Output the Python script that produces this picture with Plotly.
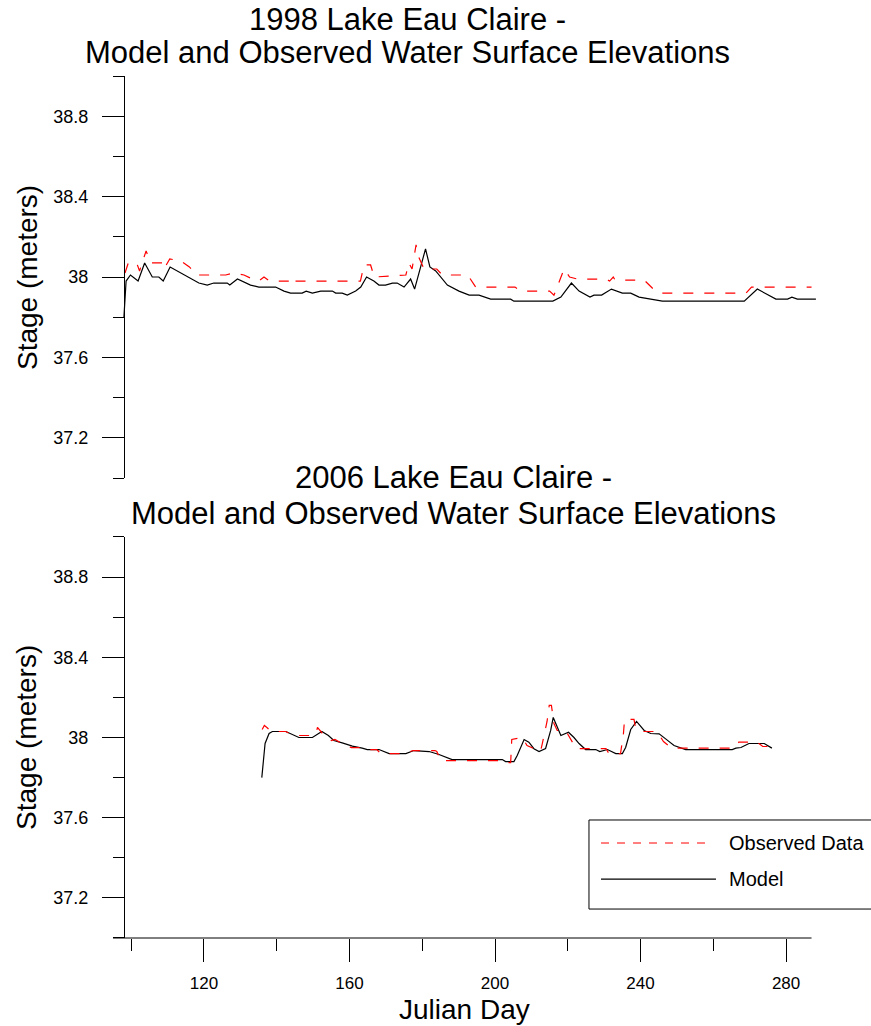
import plotly.graph_objects as go

# 1998 series (Julian day, stage in meters)
day_model_1998 = [98.0, 98.6, 99.8, 101.9, 103.7, 105.8, 107.6, 108.8, 110.7, 118.6,
                  120.9, 122.7, 126.4, 127.1, 129.2, 132.8, 135.1, 139.7, 142.0, 143.8,
                  147.0, 148.1, 149.8, 152.1, 155.3, 156.2, 158.0, 159.4, 161.7, 163.1,
                  164.7, 166.7, 168.1, 169.9, 171.8, 173.1, 175.0, 176.8, 177.9, 180.9,
                  182.1, 183.7, 186.9, 190.1, 192.9, 195.6, 198.8, 204.3, 205.2, 215.9,
                  218.1, 221.0, 223.1, 226.1, 227.2, 229.3, 232.0, 235.0, 237.3, 239.6,
                  242.8, 246.0, 268.5, 272.1, 277.2, 280.4, 281.6, 283.1, 288.2]
stage_model_1998 = [37.80, 37.98, 38.01, 37.98, 38.07, 38.00, 38.00, 37.98, 38.05, 37.97,
                    37.96, 37.97, 37.97, 37.96, 37.99, 37.96, 37.95, 37.95, 37.93, 37.92,
                    37.92, 37.93, 37.92, 37.93, 37.93, 37.92, 37.92, 37.91, 37.93, 37.95,
                    38.00, 37.98, 37.96, 37.96, 37.97, 37.97, 37.95, 37.99, 37.94, 38.14,
                    38.05, 38.03, 37.96, 37.93, 37.91, 37.91, 37.89, 37.89, 37.88, 37.88,
                    37.90, 37.97, 37.93, 37.90, 37.91, 37.91, 37.94, 37.92, 37.92, 37.90,
                    37.89, 37.88, 37.88, 37.94, 37.89, 37.89, 37.90, 37.89, 37.89]

day_obs_1998 = [98.3, 99.2, 101.5, 102.3, 103.0, 104.1, 105.3, 108.5, 109.0, 110.6,
                113.6, 116.0, 118.0, 126.0, 128.0, 131.0, 133.3, 135.0, 136.5, 138.0,
                143.5, 144.2, 145.0, 163.0, 164.0, 165.8, 166.8, 175.5, 176.3, 177.2,
                178.3, 179.0, 180.5, 184.0, 185.5, 192.5, 194.7, 205.5, 207.1, 215.0,
                216.2, 217.5, 219.0, 220.5, 222.6, 230.5, 231.5, 232.5, 233.0, 241.0,
                244.1, 245.5, 269.0, 270.5, 287.0]
stage_obs_1998 = [38.02, 38.07, 38.07, 38.03, 38.07, 38.13, 38.07, 38.07, 38.04, 38.09,
                  38.08, 38.05, 38.01, 38.01, 38.02, 38.01, 37.99, 37.98, 38.00, 37.98,
                  37.98, 37.96, 37.98, 37.98, 38.06, 38.06, 38.00, 38.01, 38.07, 38.04,
                  38.16, 38.10, 38.04, 38.04, 38.01, 38.01, 37.95, 37.95, 37.93, 37.93,
                  37.91, 37.97, 38.04, 38.00, 37.99, 37.99, 37.98, 38.00, 37.985, 37.985,
                  37.93, 37.92, 37.92, 37.95, 37.95]

# 2006 series
day_model_2006 = [135.9, 136.8, 137.9, 138.8, 142.5, 146.1, 149.8, 151.2, 152.4, 154.2,
                  155.7, 158.0, 160.8, 163.5, 164.9, 168.1, 169.5, 170.9, 175.5, 177.7,
                  181.9, 184.6, 188.2, 202.0, 202.9, 205.2, 206.1, 208.0, 209.3, 210.7,
                  212.1, 213.9, 215.3, 216.0, 218.1, 220.2, 221.7, 223.1, 224.9, 227.7,
                  228.8, 230.9, 233.2, 235.0, 235.9, 237.3, 238.9, 241.0, 242.8, 245.1,
                  246.9, 249.2, 252.4, 265.2, 266.2, 267.6, 269.8, 274.0, 276.1]
stage_model_2006 = [37.80, 37.97, 38.02, 38.03, 38.03, 38.00, 38.00, 38.015, 38.03, 38.01,
                    37.985, 37.973, 37.957, 37.947, 37.94, 37.94, 37.93, 37.92, 37.92, 37.935,
                    37.93, 37.915, 37.89, 37.89, 37.88, 37.88, 37.91, 37.99, 37.977, 37.944,
                    37.93, 37.945, 38.035, 38.10, 38.01, 38.026, 38.00, 37.97, 37.94, 37.94,
                    37.93, 37.94, 37.92, 37.92, 37.95, 38.04, 38.08, 38.035, 38.02, 38.018,
                    37.993, 37.96, 37.94, 37.94, 37.947, 37.95, 37.97, 37.97, 37.947]

day_obs_2006 = [136.0, 136.6, 137.3, 137.9, 139.0, 142.5, 143.5, 146.0, 149.5, 150.8,
                151.2, 152.8, 155.0, 156.0, 158.0, 160.5, 163.0, 164.5, 167.5, 168.6,
                175.0, 177.5, 183.5, 184.0, 185.1, 201.5, 202.5, 204.3, 204.6, 207.5,
                208.8, 212.5, 213.0, 214.3, 214.9, 215.5, 216.2, 217.1, 219.4, 222.3,
                230.5, 231.3, 234.5, 235.3, 235.6, 238.2, 238.6, 240.0, 244.5, 246.3,
                248.5, 265.5, 266.0, 267.0, 272.0, 273.6, 276.3]
stage_obs_2006 = [38.04, 38.06, 38.05, 38.04, 38.03, 38.03, 38.02, 38.01, 38.01, 38.02,
                  38.05, 38.015, 37.985, 37.99, 37.97, 37.95, 37.95, 37.94, 37.94, 37.92,
                  37.92, 37.935, 37.935, 37.93, 37.885, 37.885, 37.875, 37.875, 37.99, 38.00,
                  37.96, 37.93, 37.97, 38.08, 38.16, 38.16, 38.07, 38.035, 38.035, 37.945,
                  37.945, 37.92, 37.92, 38.02, 38.09, 38.09, 38.05, 38.03, 38.03, 37.98,
                  37.947, 37.947, 37.955, 37.977, 37.977, 37.955, 37.955]

titles = ["1998 Lake Eau Claire -", "2006 Lake Eau Claire -"]
subtitle = "Model and Observed Water Surface Elevations"
legend_names = ["Observed Data", "Model"]

FONT = "Liberation Sans, Arial, sans-serif"
obs_line = dict(color="#ff0000", width=1.2, dash="10px,11px")
model_line = dict(color="black", width=1.2)

fig = go.Figure()
fig.add_trace(go.Scatter(x=day_model_1998, y=stage_model_1998, mode="lines",
                         line=model_line, xaxis="x2", yaxis="y2", showlegend=False))
fig.add_trace(go.Scatter(x=day_obs_1998, y=stage_obs_1998, mode="lines",
                         line=obs_line, xaxis="x2", yaxis="y2", showlegend=False))
fig.add_trace(go.Scatter(x=day_model_2006, y=stage_model_2006, mode="lines",
                         line=model_line, xaxis="x", yaxis="y", showlegend=False))
fig.add_trace(go.Scatter(x=day_obs_2006, y=stage_obs_2006, mode="lines",
                         line=obs_line, xaxis="x", yaxis="y", showlegend=False))

y_common = dict(range=[37, 39], anchor="free", position=0.015625,
                showline=True, linecolor="black", linewidth=1,
                ticks="outside", ticklen=22, tickcolor="black", tickwidth=1,
                tick0=37.2, dtick=0.4, ticklabelstandoff=10,
                minor=dict(ticks="outside", ticklen=11, tickcolor="black",
                           tick0=37.0, dtick=0.4),
                showgrid=False, zeroline=False,
                tickfont=dict(family=FONT, size=18, color="black"))

fig.update_layout(
    width=871, height=1026,
    margin=dict(l=113, r=54, t=76, b=88),
    paper_bgcolor="white", plot_bgcolor="white",
    font=dict(family=FONT, color="black"),
    showlegend=False,
    xaxis=dict(domain=[0, 1], range=[95, 288.5], anchor="y",
               showline=False, ticks="outside", ticklen=23, tickcolor="black",
               tickwidth=1, tick0=120, dtick=40, ticklabelstandoff=7,
               minor=dict(ticks="outside", ticklen=12, tickcolor="black",
                          tick0=100, dtick=40),
               showgrid=False, zeroline=False,
               tickfont=dict(family=FONT, size=17, color="black")),
    xaxis2=dict(domain=[0, 1], range=[95, 288.5], anchor="y2", visible=False),
    yaxis=dict(domain=[0, 0.4652], **y_common),
    yaxis2=dict(domain=[0.5336, 1], **y_common),
)

# bottom axis line (stops a little short of the plot edge)
fig.add_shape(type="line", xref="x", yref="paper", x0=95, x1=287, y0=0, y1=0,
              line=dict(color="black", width=1))

# titles (two lines each)
ann = []
ann.append(dict(text=titles[0], x=0.419, y=1.0661))
ann.append(dict(text=subtitle, x=0.419, y=1.0267))
ann.append(dict(text=titles[1], x=0.483, y=0.5342))
ann.append(dict(text=subtitle, x=0.483, y=0.4927))
for a in ann:
    fig.add_annotation(xref="paper", yref="paper", showarrow=False,
                       xanchor="center", yanchor="middle",
                       font=dict(family=FONT, size=31, color="black"), **a)

for yc in [0.7668, 0.2332]:
    fig.add_annotation(text="Stage (meters)", xref="paper", yref="paper",
                       x=-0.1222, y=yc, textangle=-90, showarrow=False,
                       xanchor="center", yanchor="middle",
                       font=dict(family=FONT, size=28, color="black"))

fig.add_annotation(text="Julian Day", xref="paper", yref="paper", x=0.499, y=-0.0835,
                   showarrow=False, xanchor="center", yanchor="middle",
                   font=dict(family=FONT, size=28, color="black"))

# legend box drawn by hand
fig.add_shape(type="rect", xref="paper", yref="paper", x0=0.6761, x1=1.0824,
              y0=0.0336, y1=0.1369, line=dict(color="black", width=1),
              fillcolor="white", layer="above")
fig.add_shape(type="line", xref="paper", yref="paper", x0=0.6932, x1=0.8409,
              y0=0.1102, y1=0.1102, line=dict(color="#ff0000", width=1.2, dash="8px,8px"))
fig.add_shape(type="line", xref="paper", yref="paper", x0=0.6932, x1=0.8565,
              y0=0.0684, y1=0.0684, line=dict(color="black", width=1.2))
for name, yc in zip(legend_names, [0.1102, 0.0684]):
    fig.add_annotation(text=name, xref="paper", yref="paper", x=0.8722, y=yc,
                       showarrow=False, xanchor="left", yanchor="middle",
                       font=dict(family=FONT, size=20, color="black"))

# drop the default body margin so the figure fills the window exactly
fig.write_html("out.html", config={"displayModeBar": False},
               post_script="document.body.style.margin='0';")
